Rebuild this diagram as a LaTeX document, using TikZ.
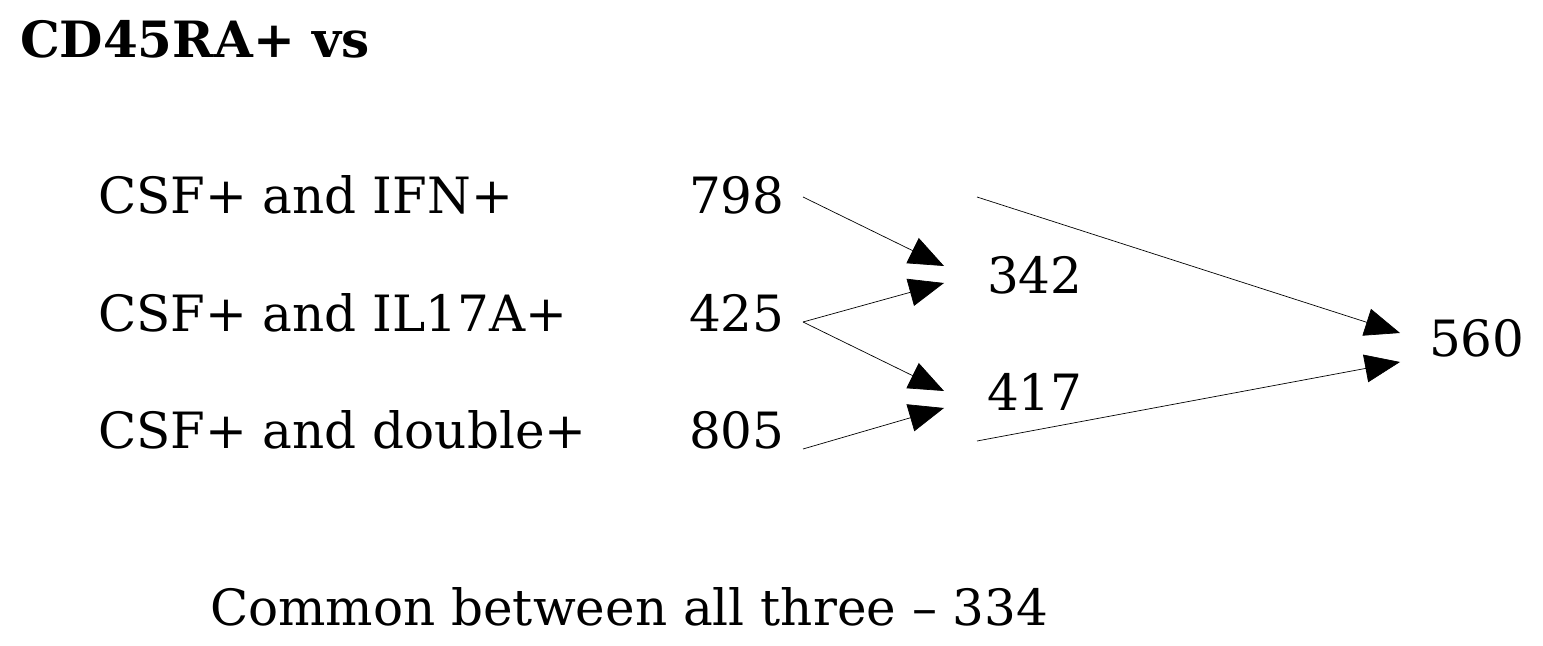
\documentclass[tikz,border=0pt]{standalone}
\usepackage{fontspec}
\setmainfont{DejaVu Serif}
\usetikzlibrary{arrows.meta}

\begin{document}
\begin{tikzpicture}[x=0.5pt,y=-0.5pt,
		every node/.style={label},
		label/.style={anchor=base west,inner sep=0pt,outer sep=0pt,font=\fontsize{25}{30}\selectfont},
		heading/.style={font=\fontsize{25}{30}\selectfont\bfseries},
		arr/.style={line width=0.35pt,-{Triangle[length=17.5pt,width=14pt]}}]
	\useasboundingbox (0,0) rectangle (1543,646);
	\node (TITLE) [heading] at (20,58)   {CD45RA+ vs};
	\node (IFN)             at (98,214)  {CSF+ and IFN+};
	\node (IL)              at (98,332)  {CSF+ and IL17A+};
	\node (DBL)             at (98,449)  {CSF+ and double+};
	\node (N798)            at (689,214) {798};
	\node (N425)            at (689,332) {425};
	\node (N805)            at (689,449) {805};
	\node (N342)            at (987,294) {342};
	\node (N417)            at (987,411) {417};
	\node (N560)            at (1429,357) {560};
	\node (COMMON)          at (210,625) {Common between all three -- 334};

	\coordinate (A798) at (803,197);
	\coordinate (A425) at (803,322);
	\coordinate (A805) at (803,449);
	\coordinate (B342a) at (944,266);
	\coordinate (B342b) at (944,283);
	\coordinate (B417a) at (944,391);
	\coordinate (B417b) at (944,408);
	\coordinate (A342) at (977,197);
	\coordinate (A417) at (977,441);
	\coordinate (B560a) at (1400,333);
	\coordinate (B560b) at (1400,362);

	\draw[arr] (A798) -- (B342a);
	\draw[arr] (A425) -- (B342b);
	\draw[arr] (A425) -- (B417a);
	\draw[arr] (A805) -- (B417b);
	\draw[arr] (A342) -- (B560a);
	\draw[arr] (A417) -- (B560b);
\end{tikzpicture}
\end{document}
